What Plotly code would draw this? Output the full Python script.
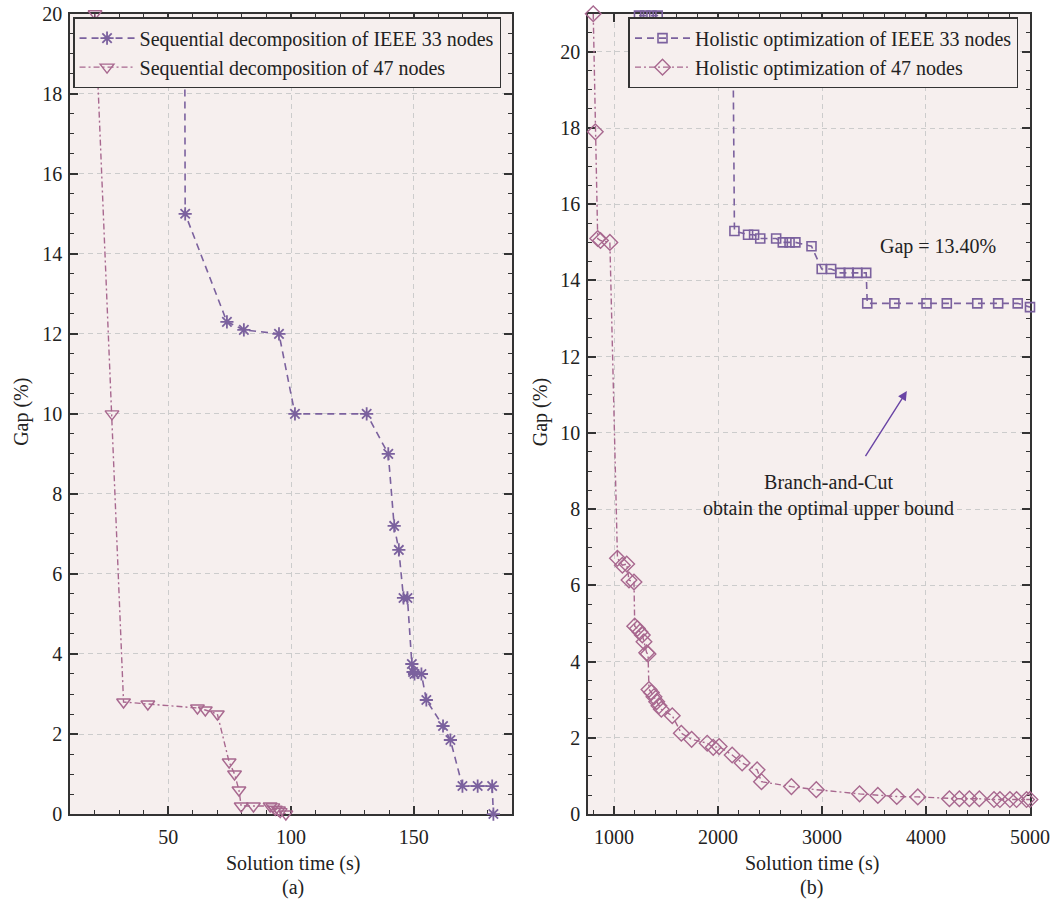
import plotly.graph_objects as go

# ---------------- data ----------------
# (a) Sequential decomposition
seq33_time = [56.5, 56.9, 73.9, 80.8, 95.1, 101.6, 130.8, 139.6, 142.0, 143.9, 145.8, 147.4,
              149.2, 149.7, 150.3, 153.1, 155.1, 161.9, 164.9, 169.8, 176.0, 181.9, 182.4]
seq33_gap = [25.0, 15.0, 12.3, 12.1, 12.0, 10.0, 10.0, 9.0, 7.2, 6.6, 5.4, 5.4,
             3.75, 3.55, 3.5, 3.5, 2.85, 2.2, 1.85, 0.7, 0.7, 0.7, 0.0]

seq47_time = [20.2, 27.1, 31.8, 41.7, 61.9, 65.1, 70.0, 74.8, 77.0, 78.8, 79.7, 84.7,
              91.5, 92.6, 93.6, 94.9, 95.6, 97.9]
seq47_gap = [20.0, 10.0, 2.8, 2.75, 2.65, 2.6, 2.5, 1.3, 1.0, 0.6, 0.2, 0.2,
             0.2, 0.18, 0.12, 0.1, 0.06, 0.0]

# (b) Holistic optimization
hol33_time = [1240, 1300, 1360, 1420, 2146, 2158, 2289, 2347, 2406, 2559, 2623, 2688, 2744,
              2899, 2997, 3088, 3176, 3257, 3339, 3425, 3435, 3696, 4005, 4200, 4493,
              4694, 4882, 5000]
hol33_gap = [20.95, 20.95, 20.95, 20.95, 19.5, 15.3, 15.2, 15.2, 15.1, 15.1, 15.0, 15.0, 15.0,
             14.9, 14.3, 14.3, 14.2, 14.2, 14.2, 14.2, 13.4, 13.4, 13.4, 13.4, 13.4,
             13.4, 13.4, 13.3]

hol47_time = [800, 820, 843, 870, 960, 1033, 1080, 1122, 1144, 1192, 1199, 1224, 1250, 1272,
              1288, 1314, 1327, 1336, 1359, 1384, 1410, 1432, 1455, 1560, 1647, 1746, 1896,
              1954, 2011, 2136, 2232, 2376, 2418, 2706, 2945, 3361, 3537, 3719, 3921, 4225,
              4321, 4417, 4513, 4654, 4711, 4807, 4871, 4967, 5000]
hol47_gap = [21.0, 17.9, 15.1, 15.05, 15.0, 6.71, 6.53, 6.56, 6.14, 6.09, 4.93, 4.87, 4.78, 4.70,
             4.52, 4.23, 4.2, 3.27, 3.19, 3.08, 2.95, 2.84, 2.75, 2.58, 2.12, 1.96, 1.86,
             1.75, 1.77, 1.55, 1.34, 1.16, 0.85, 0.72, 0.64, 0.53, 0.49, 0.46, 0.45, 0.40,
             0.40, 0.40, 0.40, 0.38, 0.38, 0.38, 0.38, 0.38, 0.38]

left_xticks = [50, 100, 150]
right_xticks = [1000, 2000, 3000, 4000, 5000]
left_yticks = list(range(0, 21, 2))
right_yticks = list(range(0, 21, 2))

names = ["Sequential decomposition of IEEE 33 nodes", "Sequential decomposition of 47 nodes",
         "Holistic optimization of IEEE 33 nodes", "Holistic optimization of 47 nodes"]

# ---------------- style ----------------
PURPLE = "#7b619e"
MAUVE = "#a8688f"
FONT = "Liberation Serif"
FS = 20
BG = "#f6efee"
FRAME = "#333333"

fig = go.Figure()

fig.add_trace(go.Scatter(
    x=seq33_time, y=seq33_gap, name=names[0], mode="lines+markers", xaxis="x", yaxis="y",
    line=dict(color=PURPLE, width=1.6, dash="7px,5px"),
    marker=dict(symbol="asterisk-open", size=11, line=dict(color=PURPLE, width=1.8)),
    cliponaxis=False, legend="legend"))
fig.add_trace(go.Scatter(
    x=seq47_time, y=seq47_gap, name=names[1], mode="lines+markers", xaxis="x", yaxis="y",
    line=dict(color=MAUVE, width=1.4, dash="6px,3px,2px,3px"),
    marker=dict(symbol="triangle-down-open", size=12, color=MAUVE, line=dict(color=MAUVE, width=1.4)),
    cliponaxis=False, legend="legend"))
fig.add_trace(go.Scatter(
    x=hol33_time, y=hol33_gap, name=names[2], mode="lines+markers", xaxis="x2", yaxis="y2",
    line=dict(color=PURPLE, width=1.6, dash="7px,5px"),
    marker=dict(symbol="square-open", size=9, color=PURPLE, line=dict(color=PURPLE, width=1.6)),
    cliponaxis=False, legend="legend2"))
fig.add_trace(go.Scatter(
    x=hol47_time, y=hol47_gap, name=names[3], mode="lines+markers", xaxis="x2", yaxis="y2",
    line=dict(color=MAUVE, width=1.4, dash="6px,3px,2px,3px"),
    marker=dict(symbol="diamond-open", size=12, color=MAUVE, line=dict(color=MAUVE, width=1.4)),
    cliponaxis=False, legend="legend2"))

tickfont = dict(family=FONT, size=FS, color="#222")


def xaxis(dom, rng, tickvals, minor_dtick):
    return dict(domain=dom, range=rng, tickvals=tickvals, ticks="inside", ticklen=8, tickwidth=1.5,
                tickcolor=FRAME, showline=True, linecolor=FRAME, linewidth=1.6, mirror="allticks",
                showgrid=True, gridcolor="#cccccc", griddash="5px,4px", gridwidth=1,
                zeroline=False, tickfont=tickfont, ticklabelstandoff=4,
                minor=dict(dtick=minor_dtick, tick0=0, ticks="inside", ticklen=4.5, tickwidth=1.2,
                           tickcolor=FRAME, showgrid=False),
                automargin=False, layer="below traces")


def yaxis(dom, rng, tickvals, anchor):
    return dict(domain=dom, range=rng, tickvals=tickvals, ticks="inside", ticklen=8, tickwidth=1.5,
                tickcolor=FRAME, showline=True, linecolor=FRAME, linewidth=1.6, mirror="allticks",
                showgrid=True, gridcolor="#cccccc", griddash="5px,4px", gridwidth=1,
                zeroline=False, tickfont=tickfont, ticklabelstandoff=2, anchor=anchor,
                minor=dict(dtick=0.5, tick0=0, ticks="inside", ticklen=4.5, tickwidth=1.2,
                           tickcolor=FRAME, showgrid=False),
                automargin=False, layer="below traces")


ydom = [0.0975, 0.9848]
fig.update_layout(
    width=1051, height=902,
    margin=dict(l=0, r=0, t=0, b=0),
    paper_bgcolor="white", plot_bgcolor=BG,
    font=dict(family=FONT, size=FS, color="#222"),
    xaxis=xaxis([0.0666, 0.4872], [10, 190], left_xticks, 10) | dict(anchor="y"),
    yaxis=yaxis(ydom, [0, 20], left_yticks, "x"),
    xaxis2=xaxis([0.5595, 0.9800], [750, 5000], right_xticks, 200) | dict(anchor="y2"),
    yaxis2=yaxis(ydom, [0, 21], right_yticks, "x2"),
    legend=dict(x=0.0695, y=0.981, xanchor="left", yanchor="top", bgcolor=BG,
                bordercolor=FRAME, borderwidth=1.5, font=dict(family=FONT, size=FS, color="#222"),
                tracegroupgap=0, itemwidth=55),
    legend2=dict(x=0.598, y=0.981, xanchor="left", yanchor="top", bgcolor=BG,
                 bordercolor=FRAME, borderwidth=1.5, font=dict(family=FONT, size=FS, color="#222"),
                 tracegroupgap=0, itemwidth=55),
    showlegend=True,
)

ann_font = dict(family=FONT, size=FS, color="#222")
annotations = [
    dict(text="Gap (%)", x=0.0206, y=0.543, xref="paper", yref="paper", textangle=-90,
         showarrow=False, font=ann_font, xanchor="center", yanchor="middle"),
    dict(text="Gap (%)", x=540 / 1051, y=0.543, xref="paper", yref="paper", textangle=-90,
         showarrow=False, font=ann_font, xanchor="center", yanchor="middle"),
    dict(text="Solution time (s)", x=293 / 1051, y=1 - 863 / 902, xref="paper", yref="paper",
         showarrow=False, font=ann_font, xanchor="center", yanchor="middle"),
    dict(text="(a)", x=293 / 1051, y=1 - 887 / 902, xref="paper", yref="paper",
         showarrow=False, font=ann_font, xanchor="center", yanchor="middle"),
    dict(text="Solution time (s)", x=811.7 / 1051, y=1 - 863 / 902, xref="paper", yref="paper",
         showarrow=False, font=ann_font, xanchor="center", yanchor="middle"),
    dict(text="(b)", x=811.7 / 1051, y=1 - 887 / 902, xref="paper", yref="paper",
         showarrow=False, font=ann_font, xanchor="center", yanchor="middle"),
    dict(text="Gap = 13.40%", x=4116, y=14.9, xref="x2", yref="y2", showarrow=False,
         font=ann_font, xanchor="center", yanchor="middle"),
    dict(text="", x=3816, y=11.1, ax=3409, ay=9.35, xref="x2", yref="y2", axref="x2", ayref="y2",
         showarrow=True, arrowhead=2, arrowsize=1.3, arrowwidth=1.4, arrowcolor="#6a45a5"),
    dict(text="Branch-and-Cut<br>obtain the optimal upper bound", x=3065, y=8.37, xref="x2", yref="y2",
         showarrow=False, font=ann_font, xanchor="center", yanchor="middle", align="center"),
]
fig.update_layout(annotations=annotations)

fig.write_html("out.html", config={"displayModeBar": False},
               post_script="document.body.style.margin='0';document.body.style.padding='0';"
                           "document.body.style.overflow='hidden';")
